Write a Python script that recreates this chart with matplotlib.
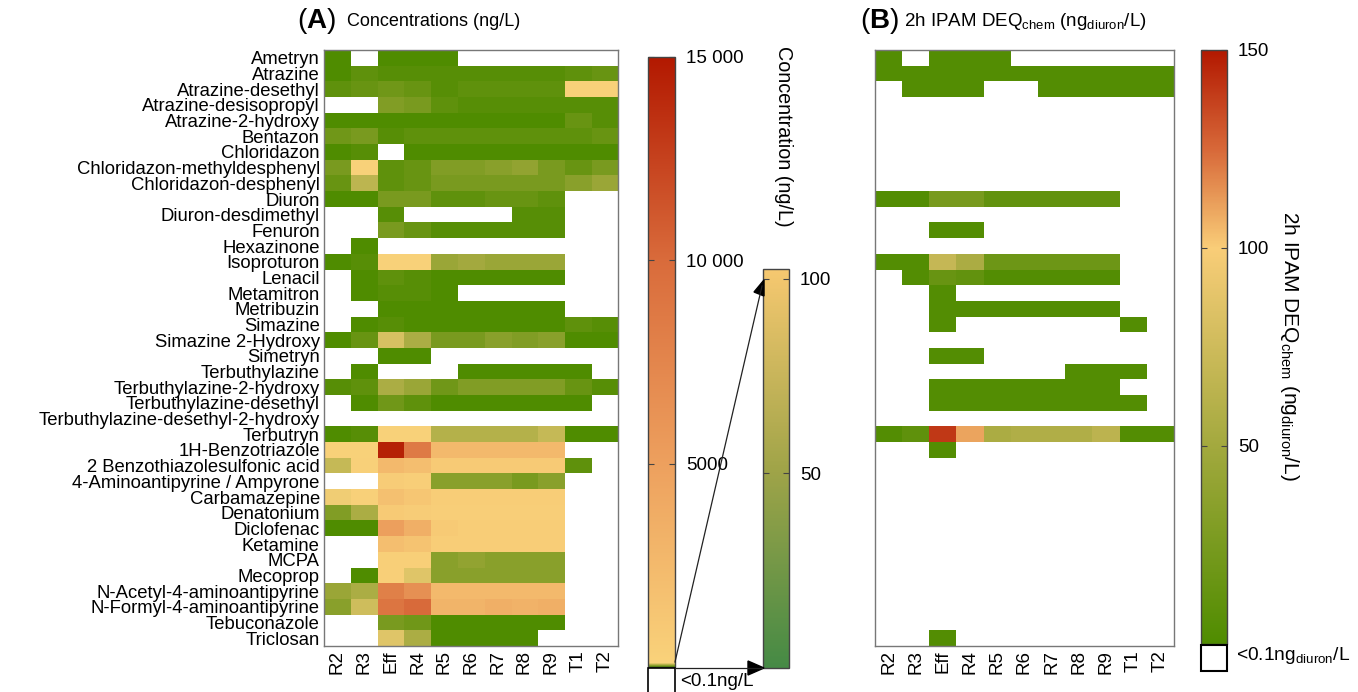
import numpy as np
import matplotlib
matplotlib.use("Agg")
import matplotlib.pyplot as plt
from matplotlib.colors import LinearSegmentedColormap, Normalize
from matplotlib.cm import ScalarMappable
from matplotlib.patches import Rectangle

plt.rcParams['font.family'] = ['Liberation Sans', 'DejaVu Sans']
plt.rcParams['mathtext.fontset'] = 'custom'
plt.rcParams['mathtext.rm'] = 'Liberation Sans'
plt.rcParams['mathtext.bf'] = 'Liberation Sans:bold'
plt.rcParams['mathtext.it'] = 'Liberation Sans:italic'
plt.rcParams['mathtext.default'] = 'regular'

N = np.nan

compounds = ['Ametryn', 'Atrazine', 'Atrazine-desethyl', 'Atrazine-desisopropyl',
             'Atrazine-2-hydroxy', 'Bentazon', 'Chloridazon', 'Chloridazon-methyldesphenyl',
             'Chloridazon-desphenyl', 'Diuron', 'Diuron-desdimethyl', 'Fenuron',
             'Hexazinone', 'Isoproturon', 'Lenacil', 'Metamitron', 'Metribuzin',
             'Simazine', 'Simazine 2-Hydroxy', 'Simetryn', 'Terbuthylazine',
             'Terbuthylazine-2-hydroxy', 'Terbuthylazine-desethyl',
             'Terbuthylazine-desethyl-2-hydroxy', 'Terbutryn', '1H-Benzotriazole',
             '2 Benzothiazolesulfonic acid', '4-Aminoantipyrine / Ampyrone',
             'Carbamazepine', 'Denatonium', 'Diclofenac', 'Ketamine', 'MCPA',
             'Mecoprop', 'N-Acetyl-4-aminoantipyrine', 'N-Formyl-4-aminoantipyrine',
             'Tebuconazole', 'Triclosan']

sites = ['R2', 'R3', 'Eff', 'R4', 'R5', 'R6', 'R7', 'R8', 'R9', 'T1', 'T2']

# concentrations (ng/L), nan = <0.1 ng/L
conc = [
    [3, N, 3, 3, 3, N, N, N, N, N, N],
    [4, 10, 5, 5, 5, 5, 5, 5, 5, 12, 15],
    [10, 15, 20, 15, 8, 10, 10, 10, 10, 150, 150],
    [N, N, 30, 28, 12, 8, 8, 8, 8, 8, 5],
    [3, 3, 3, 3, 3, 3, 3, 3, 3, 15, 8],
    [22, 25, 8, 10, 10, 10, 10, 10, 10, 10, 18],
    [3, 5, N, 3, 3, 3, 3, 3, 3, 3, 3],
    [25, 120, 10, 15, 30, 30, 38, 42, 25, 18, 28],
    [18, 65, 12, 18, 25, 25, 25, 25, 25, 35, 45],
    [3, 3, 28, 28, 12, 12, 15, 15, 12, N, N],
    [N, N, 8, N, N, N, N, 5, 5, N, N],
    [N, N, 25, 15, 8, 8, 8, 8, 8, N, N],
    [N, 3, N, N, N, N, N, N, N, N, N],
    [3, 8, 120, 120, 45, 50, 45, 45, 45, N, N],
    [N, 3, 10, 8, 3, 3, 3, 3, 3, N, N],
    [N, 3, 5, 5, 3, N, N, N, N, N, N],
    [N, N, 3, 3, 3, 3, 3, 3, 3, N, N],
    [N, 3, 5, 3, 3, 3, 3, 3, 3, 12, 5],
    [3, 15, 80, 55, 25, 28, 35, 30, 35, 3, 3],
    [N, N, 3, 3, N, N, N, N, N, N, N],
    [N, 3, N, N, N, 3, 3, 3, 3, 3, N],
    [8, 12, 55, 45, 20, 30, 30, 30, 30, 15, 5],
    [N, 3, 20, 10, 3, 3, 3, 3, 3, 3, N],
    [N, N, N, N, N, N, N, N, N, N, N],
    [3, 5, 110, 110, 60, 60, 60, 60, 70, 3, 3],
    [150, 150, 14500, 8500, 2500, 2500, 2500, 2500, 2500, N, N],
    [70, 200, 2500, 2000, 800, 800, 800, 800, 800, 10, N],
    [N, N, 600, 400, 35, 35, 35, 28, 35, N, N],
    [95, 200, 1800, 1200, 500, 500, 500, 500, 500, N, N],
    [30, 55, 800, 600, 400, 400, 400, 400, 400, N, N],
    [3, 3, 5000, 3500, 800, 500, 500, 500, 500, N, N],
    [N, N, 2000, 1500, 500, 500, 500, 500, 500, N, N],
    [N, N, 300, 300, 35, 40, 35, 35, 35, N, N],
    [N, 3, 300, 85, 35, 35, 35, 35, 35, N, N],
    [45, 55, 8000, 6500, 2500, 2500, 2500, 2500, 2500, N, N],
    [35, 75, 9000, 10000, 3000, 3000, 3500, 3200, 3500, N, N],
    [N, N, 25, 20, 3, 3, 3, 3, 3, N, N],
    [N, N, 85, 55, 3, 3, 3, 3, N, N, N],
]

# 2h IPAM DEQchem (ng_diuron/L)
deq = [
    [3, N, 3, 3, 3, N, N, N, N, N, N],
    [3, 3, 3, 3, 3, 3, 3, 3, 3, 3, 3],
    [N, 3, 3, 3, N, N, 3, 3, 3, 3, 3],
    [N, N, N, N, N, N, N, N, N, N, N],
    [N, N, N, N, N, N, N, N, N, N, N],
    [N, N, N, N, N, N, N, N, N, N, N],
    [N, N, N, N, N, N, N, N, N, N, N],
    [N, N, N, N, N, N, N, N, N, N, N],
    [N, N, N, N, N, N, N, N, N, N, N],
    [3, 3, 25, 25, 12, 12, 12, 12, 12, N, N],
    [N, N, N, N, N, N, N, N, N, N, N],
    [N, N, 3, 3, N, N, N, N, N, N, N],
    [N, N, N, N, N, N, N, N, N, N, N],
    [3, 3, 70, 55, 18, 18, 18, 18, 18, N, N],
    [N, 3, 15, 12, 3, 3, 3, 3, 3, N, N],
    [N, N, 3, N, N, N, N, N, N, N, N],
    [N, N, 3, 3, 3, 3, 3, 3, 3, N, N],
    [N, N, 3, N, N, N, N, N, N, 3, N],
    [N, N, N, N, N, N, N, N, N, N, N],
    [N, N, 3, 3, N, N, N, N, N, N, N],
    [N, N, N, N, N, N, N, 3, 3, 3, N],
    [N, N, 3, 3, 3, 3, 3, 3, 3, N, N],
    [N, N, 3, 3, 3, 3, 3, 3, 3, 3, N],
    [N, N, N, N, N, N, N, N, N, N, N],
    [3, 10, 140, 110, 55, 58, 58, 58, 65, 3, 3],
    [N, N, 3, N, N, N, N, N, N, N, N],
    [N, N, N, N, N, N, N, N, N, N, N],
    [N, N, N, N, N, N, N, N, N, N, N],
    [N, N, N, N, N, N, N, N, N, N, N],
    [N, N, N, N, N, N, N, N, N, N, N],
    [N, N, N, N, N, N, N, N, N, N, N],
    [N, N, N, N, N, N, N, N, N, N, N],
    [N, N, N, N, N, N, N, N, N, N, N],
    [N, N, N, N, N, N, N, N, N, N, N],
    [N, N, N, N, N, N, N, N, N, N, N],
    [N, N, N, N, N, N, N, N, N, N, N],
    [N, N, N, N, N, N, N, N, N, N, N],
    [N, N, 3, N, N, N, N, N, N, N, N],
]

W, H = 1358, 692

# colour maps: green -> yellow (0-100) -> red
cmap_a = LinearSegmentedColormap.from_list('conc', [
    (0.0, '#4f8c00'), (50 / 15000, '#a3a93e'), (100 / 15000, '#f9d27a'),
    (5000 / 15000, '#eda05e'), (10000 / 15000, '#d96b3b'), (1.0, '#b21800')], N=3000)
cmap_a.set_bad('white')
cmap_in = LinearSegmentedColormap.from_list('inset', ['#458a45', '#a0a448', '#f6c870'])
cmap_b = LinearSegmentedColormap.from_list('deq', [
    (0.0, '#4f8c00'), (1 / 3, '#a3a93e'), (2 / 3, '#f9cd78'),
    (0.83, '#d86a3a'), (1.0, '#b21800')], N=512)
cmap_b.set_bad('white')

norm_a = Normalize(0, 15000)
norm_b = Normalize(0, 150)

fig = plt.figure(figsize=(13.58, 6.92), dpi=100)


def px(x0, y0, x1, y1):
    # pixel box -> figure fraction rect
    return [x0 / W, 1 - y1 / H, (x1 - x0) / W, (y1 - y0) / H]


def heatmap(rect, data, cmap, norm, ylabels):
    ax = fig.add_axes(rect)
    ax.imshow(np.ma.masked_invalid(np.array(data, dtype=float)), cmap=cmap, norm=norm,
              aspect='auto', interpolation='nearest')
    ax.set_xticks(range(len(sites)))
    ax.set_xticklabels(sites, rotation=90, fontsize=13.5)
    ax.set_yticks(range(len(compounds)))
    if ylabels:
        ax.set_yticklabels(compounds, fontsize=13.3)
    else:
        ax.set_yticklabels([])
    ax.tick_params(length=0, pad=3)
    for s in ax.spines.values():
        s.set_color('#777777')
        s.set_linewidth(1.0)
    return ax


heatmap(px(324, 50, 618, 646), conc, cmap_a, norm_a, True)
heatmap(px(875, 50, 1174, 646), deq, cmap_b, norm_b, False)


def cbar(rect, cmap, norm, ticks, labels):
    cax = fig.add_axes(rect)
    cb = fig.colorbar(ScalarMappable(norm=norm, cmap=cmap), cax=cax, ticks=ticks)
    cb.ax.set_yticklabels(labels, fontsize=13.5)
    cb.outline.set_edgecolor('#444444')
    cb.outline.set_linewidth(1.0)
    cax.tick_params(direction='in', length=4, width=0.8, color='#444444',
                    left=True, right=True, labelleft=False, labelright=True, pad=8)
    return cb


cbar(px(648, 57, 675, 667), cmap_a, norm_a, [5000, 10000, 15000], ['5000', '10 000', '15 000'])
cbar(px(763, 269, 789, 668), cmap_in, Normalize(0, 102.5), [50, 100], ['50', '100'])
cbar(px(1201, 50, 1227, 644), cmap_b, norm_b, [50, 100, 150], ['50', '100', '150'])

# "<0.1" boxes
fig.add_artist(Rectangle((648 / W, 1 - 700 / H), 27 / W, 32 / H, transform=fig.transFigure,
                         facecolor='white', edgecolor='black', lw=1.2))
fig.text(680 / W, 1 - 682 / H, '<0.1ng/L', fontsize=13.5, va='center')
fig.add_artist(Rectangle((1201 / W, 1 - 671 / H), 26 / W, 26 / H, transform=fig.transFigure,
                         facecolor='white', edgecolor='black', lw=1.5))
fig.text(1236 / W, 1 - 656 / H, '<0.1ng$_{diuron}$/L', fontsize=13.8, va='center')

# zoom arrows from main colour bar to inset
fig.add_artist(plt.Line2D([675 / W, 762 / W], [1 - 662 / H, 1 - 286 / H],
                          transform=fig.transFigure, color='#222222', lw=0.9))
fig.add_artist(plt.Line2D([675 / W, 762 / W], [1 - 668 / H, 1 - 668 / H],
                          transform=fig.transFigure, color='#222222', lw=0.9))
fig.add_artist(plt.Polygon([(764 / W, 1 - 280 / H), (754 / W, 1 - 292 / H), (764 / W, 1 - 296 / H)],
                           closed=True, transform=fig.transFigure, color='black'))
fig.add_artist(plt.Polygon([(764 / W, 1 - 668 / H), (748 / W, 1 - 661 / H), (748 / W, 1 - 675 / H)],
                           closed=True, transform=fig.transFigure, color='black'))

# axis titles
fig.text(784 / W, 1 - 136 / H, 'Concentration (ng/L)', rotation=270, fontsize=14.2,
         ha='center', va='center')
fig.text(1290 / W, 1 - 346 / H, '2h IPAM DEQ$_{chem}$ (ng$_{diuron}$/L)', rotation=270,
         fontsize=15, ha='center', va='center')

# panel titles
fig.text(297 / W, 1 - 21 / H, r'($\mathbf{A}$)', fontsize=20, va='center')
fig.text(347 / W, 1 - 22 / H, 'Concentrations (ng/L)', fontsize=13, va='center')
fig.text(860 / W, 1 - 21 / H, r'($\mathbf{B}$)', fontsize=20, va='center')
fig.text(904 / W, 1 - 22 / H, '2h IPAM DEQ$_{chem}$ (ng$_{diuron}$/L)', fontsize=13.5, va='center')

fig.savefig('out.png', dpi=100)
